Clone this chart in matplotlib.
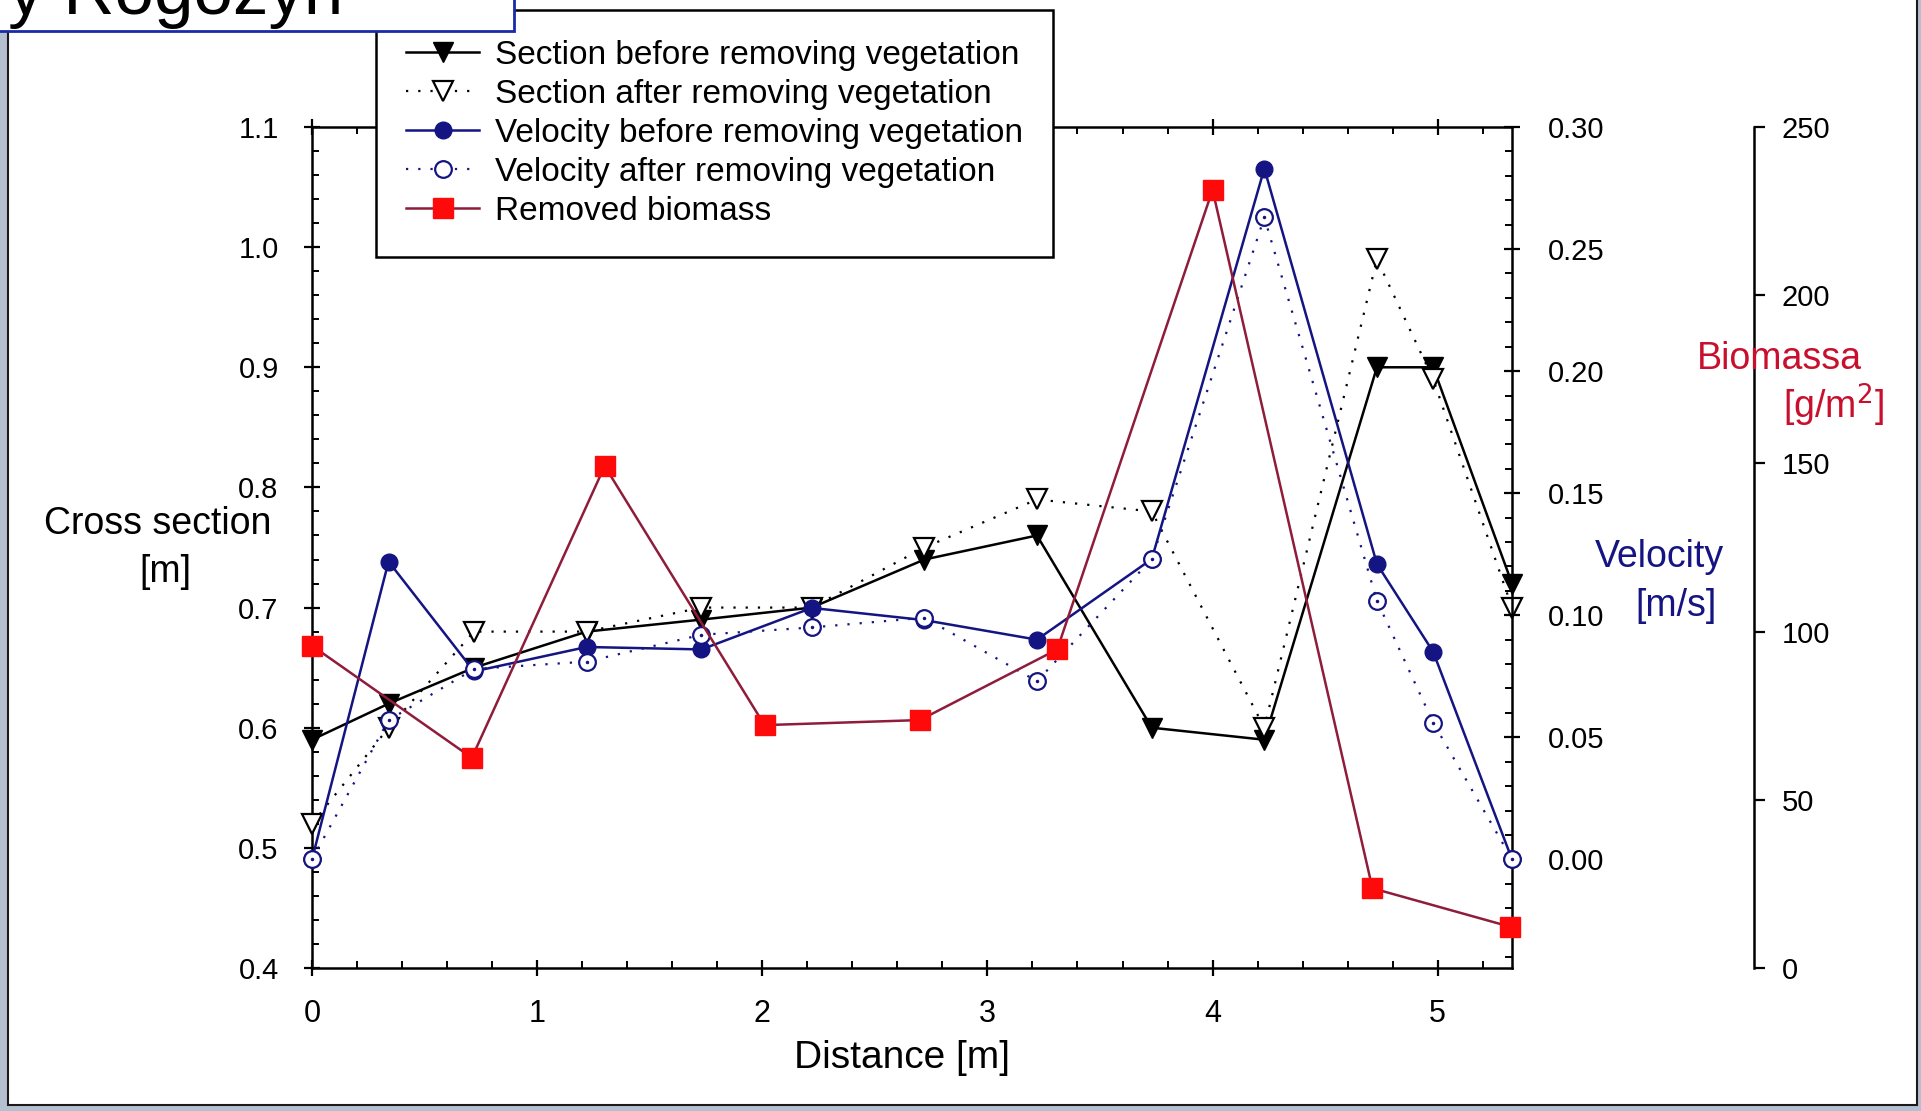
import matplotlib
matplotlib.use('Agg')
import matplotlib.pyplot as plt
from matplotlib.patches import Rectangle
from matplotlib.ticker import MultipleLocator, FormatStrFormatter

plt.rcParams['font.family'] = ['Liberation Sans', 'DejaVu Sans']

# ---------------- data ----------------
distance = [0, 0.34, 0.72, 1.22, 1.73, 2.22, 2.72, 3.22, 3.73, 4.23, 4.73, 4.98, 5.33]
section_before = [0.59, 0.62, 0.65, 0.68, 0.69, 0.70, 0.74, 0.76, 0.60, 0.59, 0.90, 0.90, 0.72]
section_after = [0.52, 0.60, 0.68, 0.68, 0.70, 0.70, 0.75, 0.79, 0.78, 0.60, 0.99, 0.89, 0.70]
velocity_before = [0.0, 0.122, 0.077, 0.087, 0.086, 0.103, 0.098, 0.090, 0.123, 0.283, 0.121, 0.085, 0.0]
velocity_after = [0.0, 0.057, 0.078, 0.081, 0.092, 0.095, 0.099, 0.073, 0.123, 0.263, 0.106, 0.056, 0.0]
biomass_distance = [0, 0.71, 1.30, 2.01, 2.70, 3.31, 4.00, 4.71, 5.32]
biomass = [95.8, 62.5, 149.2, 72.2, 73.7, 94.7, 231.3, 23.7, 12.3]

labels = ['Section before removing vegetation',
          'Section after removing vegetation',
          'Velocity before removing vegetation',
          'Velocity after removing vegetation',
          'Removed biomass']
left_ticks = [0.4, 0.5, 0.6, 0.7, 0.8, 0.9, 1.0, 1.1]
vel_ticks = [0.00, 0.05, 0.10, 0.15, 0.20, 0.25, 0.30]
bio_ticks = [0, 50, 100, 150, 200, 250]
x_ticks = [0, 1, 2, 3, 4, 5]

# ---------------- figure ----------------
W, H = 1921, 1111
fig = plt.figure(figsize=(W / 100, H / 100), dpi=100)
fig.patch.set_facecolor('#b4bfd0')


def fx(px):
    return px / W


def fy(py):
    return 1 - py / H


fig.add_artist(Rectangle((fx(8), fy(1105)), fx(1917) - fx(8), 1.2,
                         transform=fig.transFigure, facecolor='white',
                         edgecolor='#1a1a1a', lw=1.5, zorder=-10))

NAVY = '#141482'
MAROON = '#8e1c3a'
RED = '#ff0a0a'

ax = fig.add_axes([fx(312), fy(968), fx(1512) - fx(312), fy(127) - fy(968)])
ax.set_facecolor('white')
ax2 = ax.twinx()
ax3 = ax.twinx()

SW = 1.8
# --- left axis: cross section
l1, = ax.plot(distance, section_before, color='black', lw=1.8, marker='v',
              ms=14, mfc='black', mec='black', clip_on=False, zorder=3)
l2, = ax.plot(distance, section_after, color='black', lw=1.6, ls=(0, (1, 4.5)),
              marker='v', ms=14, mfc='white', mec='black', mew=1.6,
              clip_on=False, zorder=3)
ax.set_xlim(0, 5.33)
ax.set_ylim(0.4, 1.1)
ax.set_xticks(x_ticks)
ax.set_yticks(left_ticks)
ax.xaxis.set_minor_locator(MultipleLocator(0.2))
ax.yaxis.set_minor_locator(MultipleLocator(0.02))
ax.yaxis.set_major_formatter(FormatStrFormatter('%.1f'))
ax.tick_params(axis='x', which='major', direction='inout', length=12, width=1.6,
               top=True, labelsize=22, pad=16)
ax.tick_params(axis='x', which='minor', direction='in', length=5, width=1.4, top=True)
ax.tick_params(axis='y', which='major', direction='inout', length=12, width=1.6,
               right=False, labelsize=21, pad=18)
ax.tick_params(axis='y', which='minor', direction='in', length=5, width=1.4, right=False)
for s in ['left', 'bottom', 'top']:
    ax.spines[s].set_linewidth(SW)
ax.spines['right'].set_visible(False)

# --- velocity axis
l3, = ax2.plot(distance, velocity_before, color=NAVY, lw=1.8, marker='o', ms=12,
               mfc=NAVY, mec=NAVY, clip_on=False, zorder=3)
l4, = ax2.plot(distance, velocity_after, color=NAVY, lw=1.6, ls=(0, (1, 4.5)),
               marker='o', ms=12, mfc='white', mec=NAVY, mew=1.6,
               clip_on=False, zorder=3)
ax2.plot(distance, velocity_after, ls='none', marker='.', ms=3, color=NAVY,
         clip_on=False, zorder=3)
ax2.set_ylim(-0.0445, 0.30)
ax2.set_yticks(vel_ticks)
ax2.yaxis.set_minor_locator(MultipleLocator(0.01))
ax2.yaxis.set_major_formatter(FormatStrFormatter('%.2f'))
ax2.tick_params(axis='y', which='major', direction='inout', length=12, width=1.6,
                labelsize=21, pad=20)
ax2.tick_params(axis='y', which='minor', direction='in', length=5, width=1.4)
for s in ['left', 'bottom', 'top']:
    ax2.spines[s].set_visible(False)
ax2.spines['right'].set_linewidth(SW)

# --- biomass axis
l5, = ax3.plot(biomass_distance, biomass, color=MAROON, lw=1.8, marker='s', ms=14,
               mfc=RED, mec=RED, clip_on=False, zorder=4)
ax3.set_ylim(0, 250)
ax3.set_yticks(bio_ticks)
ax3.spines['right'].set_position(('axes', (1754 - 312) / 1200))
for s in ['left', 'bottom', 'top']:
    ax3.spines[s].set_visible(False)
ax3.spines['right'].set_linewidth(SW)
ax3.tick_params(axis='y', which='major', direction='out', length=8, width=1.6,
                labelsize=21, pad=12)

# --- axis titles
fig.text(fx(902), fy(1058), 'Distance [m]', ha='center', va='center', fontsize=28)
fig.text(fx(158), fy(524), 'Cross section', ha='center', va='center', fontsize=27)
fig.text(fx(165), fy(572), '[m]', ha='center', va='center', fontsize=27)
fig.text(fx(1659), fy(557), 'Velocity', ha='center', va='center', fontsize=27, color=NAVY)
fig.text(fx(1676), fy(606), '[m/s]', ha='center', va='center', fontsize=27, color=NAVY)
fig.text(fx(1779), fy(359), 'Biomassa', ha='center', va='center', fontsize=27, color='#c8102e')
fig.text(fx(1833), fy(405), '[g/m$^2$]', ha='center', va='center', fontsize=27, color='#c8102e')

# --- legend
leg = fig.legend([l1, l2, l3, l4, l5], labels, loc='upper left',
                 bbox_to_anchor=(fx(376), fy(10)), bbox_transform=fig.transFigure,
                 frameon=True, fancybox=False, edgecolor='black', framealpha=1,
                 fontsize=24, handlelength=2.2, handletextpad=0.48, borderpad=0.9,
                 labelspacing=0.24, borderaxespad=0, numpoints=1)
leg.get_frame().set_linewidth(1.8)
leg.set_zorder(8)

# --- cut-off title box at the top left
fig.add_artist(Rectangle((-0.01, fy(31)), fx(514) + 0.01, 0.1, transform=fig.transFigure,
                         facecolor='white', edgecolor='#1a2aa8', lw=2, zorder=10))
fig.text(fx(8), fy(14), 'y Rogozyn', ha='left', va='baseline', fontsize=51,
         zorder=11)

fig.savefig('out.png', dpi=100, facecolor=fig.get_facecolor())
